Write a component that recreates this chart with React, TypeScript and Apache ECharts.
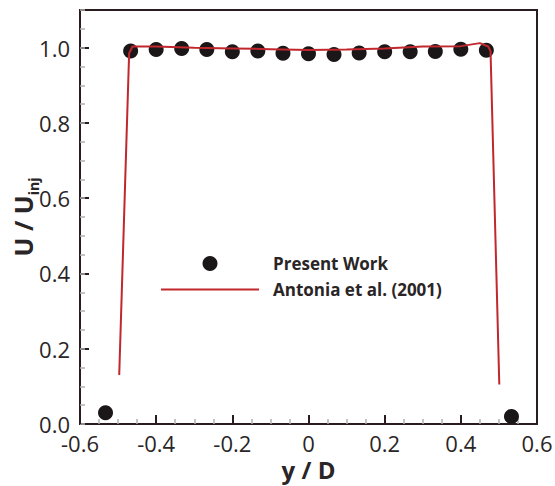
import React, { useEffect, useRef } from "react";
import * as echarts from "echarts";

// Present Work (scatter)
const PW_X = [-0.533, -0.467, -0.4, -0.333, -0.267, -0.2, -0.133, -0.067, 0, 0.067, 0.133, 0.2, 0.267, 0.333, 0.4, 0.467, 0.533];
const PW_Y = [0.03, 0.991, 0.995, 0.998, 0.995, 0.989, 0.991, 0.985, 0.984, 0.982, 0.986, 0.989, 0.989, 0.99, 0.996, 0.993, 0.02];

// Antonia et al. (2001) (line)
const AN_X = [-0.497, -0.471, -0.462, -0.4, -0.3, -0.2, -0.1, 0, 0.1, 0.2, 0.3, 0.4, 0.45, 0.472, 0.478, 0.501];
const AN_Y = [0.13, 0.985, 1.003, 1.003, 1.0, 0.998, 0.996, 0.994, 0.995, 0.998, 1.003, 1.004, 1.012, 1.003, 0.99, 0.105];

const SERIES_NAMES = ["Present Work", "Antonia et al. (2001)"];
const X_TITLE = "y / D";
const Y_TITLE = "{main|U / U}{sub|inj}";

const FONT = "'Open Sans', 'Noto Sans', sans-serif";
const TEXT = "#2a2526";
const FRAME = "#2a1c1e";

export default function App() {
  const ref = useRef<HTMLDivElement>(null);
  useEffect(() => {
    if (!ref.current) return;
    const chart = echarts.init(ref.current, null, { renderer: "svg" });
    const labelStyle = { color: TEXT, fontFamily: FONT, fontSize: 22 };
    chart.setOption({
      animation: false,
      backgroundColor: "#ffffff",
      grid: {
        left: 80, right: 18, top: 10, bottom: 62,
        containLabel: false, outerBoundsMode: "none",
        show: true, borderColor: FRAME, borderWidth: 2, backgroundColor: "transparent",
      },
      legend: {
        orient: "vertical",
        left: 155, top: 250,
        itemWidth: 98, itemHeight: 15, itemGap: 9,
        data: [
          { name: SERIES_NAMES[0] },
          { name: SERIES_NAMES[1], itemStyle: { color: "rgba(0,0,0,0)", borderColor: "rgba(0,0,0,0)", borderWidth: 0 } },
        ],
        textStyle: { color: TEXT, fontFamily: FONT, fontSize: 17, fontWeight: "bold", padding: [0, 0, 0, 9] },
      },
      xAxis: [
        {
          type: "value", min: -0.6, max: 0.6, interval: 0.2, position: "bottom",
          axisLine: { show: true, onZero: false, lineStyle: { color: FRAME, width: 2 } },
          axisTick: { show: true, inside: true, length: 9, lineStyle: { color: FRAME, width: 2 } },
          minorTick: { show: true, splitNumber: 4, length: 5, lineStyle: { color: "#b0b0b0", width: 1.5 } },
          splitLine: { show: false },
          axisLabel: { ...labelStyle, lineHeight: 20, margin: 9, formatter: (v: number) => (Math.abs(v) < 1e-9 ? "0" : String(Math.round(v * 10) / 10)) },
          name: X_TITLE, nameLocation: "middle", nameGap: 32, nameMoveOverlap: false,
          nameTextStyle: { color: TEXT, fontFamily: FONT, fontSize: 24, fontWeight: "bold", lineHeight: 26 },
        },
      ],
      yAxis: [
        {
          type: "value", min: 0, max: 1.1, interval: 0.2, position: "left",
          axisLine: { show: true, onZero: false, lineStyle: { color: FRAME, width: 2 } },
          axisTick: { show: true, inside: true, length: 9, lineStyle: { color: FRAME, width: 2 } },
          splitLine: { show: false },
          axisLabel: { ...labelStyle, margin: 10, showMaxLabel: false, formatter: (v: number) => (v > 1.05 ? "" : v.toFixed(1)) },
          name: Y_TITLE, nameLocation: "middle", nameGap: 40, nameMoveOverlap: false,
          nameTextStyle: {
            color: TEXT, fontFamily: FONT, fontWeight: "bold",
            rich: {
              main: { fontFamily: FONT, fontSize: 25, fontWeight: "bold", color: TEXT, lineHeight: 35, verticalAlign: "middle" },
              sub: { fontFamily: FONT, fontSize: 14, fontWeight: "bold", color: TEXT, lineHeight: 14, verticalAlign: "bottom" },
            },
          },
        },
        {
          type: "value", min: 0, max: 1.1, interval: 0.05, position: "left",
          axisLine: { show: true, onZero: false, lineStyle: { color: FRAME, width: 2 } },
          axisTick: { show: true, inside: true, length: 5, lineStyle: { color: "#b0b0b0", width: 1.5 } },
          splitLine: { show: false },
          axisLabel: { show: false },
        },
      ],
      series: [
        {
          name: SERIES_NAMES[0], type: "scatter", symbol: "circle", symbolSize: 15,
          itemStyle: { color: "#1b1718", opacity: 1 }, z: 3,
          data: PW_X.map((x, i) => [x, PW_Y[i]]),
        },
        {
          name: SERIES_NAMES[1], type: "line", symbol: "none", showSymbol: false,
          lineStyle: { color: "#c1272d", width: 2 }, itemStyle: { color: "#c1272d" }, z: 4,
          data: AN_X.map((x, i) => [x, AN_Y[i]]),
        },
      ],
    });
    return () => chart.dispose();
  }, []);
  return <div ref={ref} style={{ position: "fixed", left: 0, top: 0, width: 555, height: 486 }} />;
}
